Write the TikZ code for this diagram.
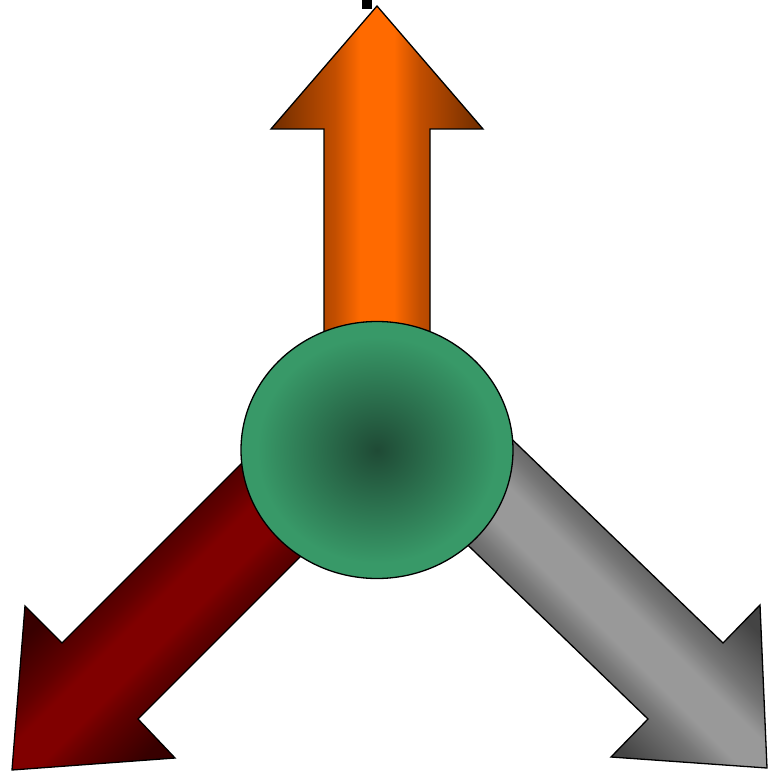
\documentclass[tikz,border=0pt]{standalone}
\usetikzlibrary{shapes.geometric}
\definecolor{orangemid}{HTML}{FF6A00}
\definecolor{orangeedge}{HTML}{6E2C00}
\definecolor{orangemix}{HTML}{C24E00}
\definecolor{redmid}{HTML}{800000}
\definecolor{rededge}{HTML}{380000}
\definecolor{redmix}{HTML}{620000}
\definecolor{graymid}{HTML}{999999}
\definecolor{grayedge}{HTML}{444444}
\definecolor{graymix}{HTML}{747474}
\definecolor{greenin}{HTML}{1F4A35}
\definecolor{greenout}{HTML}{389968}
\pgfdeclarehorizontalshading{orangearm}{100bp}{color(0bp)=(orangeedge); color(25bp)=(orangeedge); color(40bp)=(orangemix); color(46bp)=(orangemid); color(54bp)=(orangemid); color(60bp)=(orangemix); color(75bp)=(orangeedge); color(100bp)=(orangeedge)}
\pgfdeclarehorizontalshading{redarm}{100bp}{color(0bp)=(rededge); color(37bp)=(rededge); color(44bp)=(redmix); color(47.5bp)=(redmid); color(52.5bp)=(redmid); color(56bp)=(redmix); color(63bp)=(rededge); color(100bp)=(rededge)}
\pgfdeclarehorizontalshading{grayarm}{100bp}{color(0bp)=(grayedge); color(37bp)=(grayedge); color(44bp)=(graymix); color(47.5bp)=(graymid); color(52.5bp)=(graymid); color(56bp)=(graymix); color(63bp)=(grayedge); color(100bp)=(grayedge)}
\pgfdeclareradialshading{hubshade}{\pgfpoint{0bp}{0bp}}{color(0bp)=(greenin); color(22bp)=(greenout); color(50bp)=(greenout)}
\tikzset{
  arrowshape/.style={draw=black, line width=1.3pt, line join=miter},
}
\begin{document}
\begin{tikzpicture}[x=1pt,y=-1pt]
\useasboundingbox (0,0) rectangle (767,775);
% small black mark at top
\fill[black] (362,0) rectangle (372,9);
% up arrow (orange)
\path[arrowshape, shading=orangearm, shading angle=0]
  (377,6) -- (483,129) -- (430,129) -- (430,345) -- (324,345) -- (324,129) -- (271,129) -- cycle;
% down-left arrow (dark red)
\path[arrowshape, shading=redarm, shading angle=-45]
  (12,770) -- (25,606) -- (62,643) -- (262,443) -- (338,519) -- (138,719) -- (175,758) -- cycle;
% down-right arrow (gray)
\path[arrowshape, shading=grayarm, shading angle=45]
  (767,768) -- (611,757) -- (648,719) -- (418,497) -- (493,421) -- (723,643) -- (760,605) -- cycle;
% center circle
\node[ellipse, draw=black, line width=1.3pt, minimum width=272pt, minimum height=257pt,
      shading=hubshade] (hub) at (377,450) {};
\end{tikzpicture}
\end{document}
